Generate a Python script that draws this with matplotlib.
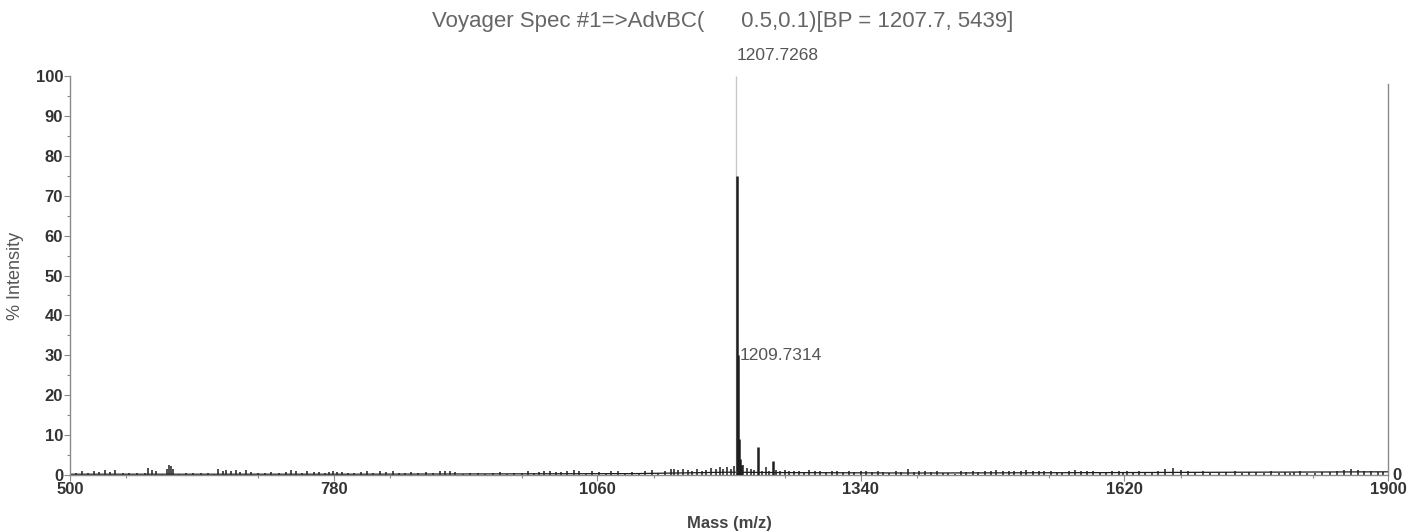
import matplotlib
matplotlib.use("Agg")
import matplotlib.pyplot as plt
from matplotlib.ticker import MultipleLocator
import matplotlib.transforms as mtransforms

plt.rcParams['font.family'] = ['Liberation Sans', 'DejaVu Sans']

# ---------------- data ----------------
title = "Voyager Spec #1=>AdvBC(      0.5,0.1)[BP = 1207.7, 5439]"
x_label = "Mass (m/z)"
y_label = "% Intensity"
x_ticks = [500, 780, 1060, 1340, 1620, 1900]
y_ticks = [0, 10, 20, 30, 40, 50, 60, 70, 80, 90, 100]

# labelled / main peaks
peak_mz = [1207.7268, 1208.73, 1209.7314, 1210.73, 1211.73, 1212.7, 1231.0, 1246.5]
peak_int = [100.0, 75.0, 30.0, 9.0, 4.0, 2.5, 7.0, 3.5]
peak_faint = [True, False, False, False, False, False, False, False]
peak_labels = {1207.7268: "1207.7268", 1209.7314: "1209.7314"}

# small noise peaks along the baseline
noise_mz = [506, 513, 519, 526, 531, 537, 542, 548, 556, 563, 571, 580, 583, 587, 591,
            598, 603, 605, 607, 609, 616, 623, 631, 639, 647, 653, 657, 662, 666, 671,
            676, 681, 687, 692, 700, 707, 714, 722, 729, 735, 740, 746, 752, 759, 765,
            771, 775, 779, 784, 789, 795, 802, 809, 816, 822, 829, 836, 843, 850, 856,
            862, 870, 878, 886, 893, 898, 904, 909, 917, 925, 933, 941, 949, 957, 964,
            972, 980, 986, 993, 998, 1004, 1010, 1016, 1022, 1028, 1035, 1041, 1048,
            1055, 1062, 1069, 1075, 1082, 1090, 1097, 1104, 1111, 1118, 1125, 1132,
            1138, 1142, 1146, 1151, 1156, 1161, 1166, 1171, 1176, 1181, 1186, 1190,
            1194, 1198, 1202, 1205, 1215, 1219, 1223, 1227, 1235, 1239, 1243, 1250,
            1254, 1259, 1264, 1269, 1274, 1280, 1285, 1291, 1297, 1303, 1309, 1315,
            1321, 1327, 1333, 1340, 1346, 1352, 1358, 1364, 1370, 1377, 1383, 1390,
            1396, 1402, 1408, 1415, 1421, 1427, 1433, 1440, 1446, 1452, 1459, 1465,
            1472, 1478, 1484, 1491, 1497, 1503, 1510, 1516, 1523, 1529, 1535, 1542,
            1548, 1554, 1561, 1567, 1574, 1580, 1587, 1594, 1600, 1607, 1614, 1619,
            1623, 1629, 1636, 1642, 1649, 1656, 1663, 1672, 1680, 1688, 1695, 1703,
            1711, 1720, 1728, 1737, 1745, 1752, 1760, 1768, 1776, 1784, 1791, 1796,
            1800, 1806, 1814, 1822, 1830, 1838, 1846, 1853, 1861, 1868, 1875, 1882,
            1889, 1895]
noise_int = [0.6, 0.9, 0.5, 1.1, 0.8, 1.3, 0.7, 1.2, 0.5, 0.4, 0.6, 0.4, 1.7, 1.2, 1.0,
             0.3, 1.5, 2.6, 2.2, 1.6, 0.3, 0.4, 0.5, 0.6, 0.4, 0.3, 1.4, 0.9, 1.3, 1.1,
             1.2, 0.8, 1.3, 0.7, 0.5, 0.6, 0.8, 0.4, 0.7, 1.2, 0.9, 0.6, 1.0, 0.8, 0.7,
             0.5, 0.8, 0.9, 0.7, 0.8, 0.6, 0.4, 0.7, 1.0, 0.5, 0.9, 0.8, 1.0, 0.4, 0.6,
             0.7, 0.5, 0.8, 0.4, 0.9, 1.1, 1.0, 0.8, 0.3, 0.4, 0.5, 0.3, 0.4, 0.8, 0.3,
             0.6, 0.4, 1.0, 0.5, 0.7, 0.9, 1.1, 0.8, 0.7, 1.0, 1.2, 0.9, 0.6, 1.0, 0.8,
             0.5, 0.9, 1.1, 0.6, 0.8, 0.5, 0.9, 1.2, 0.6, 0.9, 1.6, 1.4, 1.3, 1.6, 1.2,
             0.9, 1.4, 1.1, 1.3, 1.8, 1.5, 1.9, 1.4, 2.0, 1.6, 2.2, 2.4, 1.8, 1.5, 1.2,
             1.1, 2.0, 1.0, 1.3, 1.0, 1.2, 0.9, 1.1, 1.0, 0.8, 1.2, 0.9, 1.0, 0.8, 1.1,
             0.9, 0.7, 1.0, 0.8, 0.9, 1.0, 0.7, 0.9, 0.8, 0.6, 1.0, 0.8, 1.4, 0.7, 1.0,
             0.9, 0.8, 1.1, 0.6, 0.5, 0.3, 0.9, 0.8, 1.0, 0.7, 0.9, 1.0, 1.2, 1.0,
             1.1, 1.0, 0.9, 1.2, 1.1, 1.0, 0.9, 1.1, 0.8, 0.6, 0.9, 1.3, 1.0, 0.9, 1.1,
             0.8, 0.7, 0.9, 1.0, 0.8, 1.0, 0.6, 0.9, 0.7, 0.8, 1.0, 1.6, 1.8, 1.2, 1.0,
             0.8, 0.9, 0.5, 0.6, 0.7, 0.9, 0.5, 0.7, 0.8, 0.6, 1.0, 0.6, 0.7, 0.5, 0.8,
             0.9, 0.5, 0.6, 0.7, 0.8, 1.0, 1.2, 1.5, 1.3, 1.1, 0.9, 0.7, 0.8]

baseline_mz = [500, 800, 1100, 1200, 1260, 1400, 1600, 1900]
baseline_int = [0.2, 0.2, 0.35, 0.7, 0.6, 0.5, 0.6, 0.8]

# ---------------- figure ----------------
W, H = 1410, 532
fig = plt.figure(figsize=(W / 100, H / 100), dpi=100)
ax = fig.add_axes([70 / W, 1 - 475 / H, (1388 - 70) / W, (475 - 76) / H])

ink = "#1e1e1e"
axis_col = "#8a8a8a"
text_col = "#555555"

n = min(len(noise_mz), len(noise_int))
ax.plot(baseline_mz, baseline_int, color=ink, lw=0.9)
ax.vlines(noise_mz[:n], 0, noise_int[:n], color=ink, lw=1.1)
for mz, it, faint in zip(peak_mz, peak_int, peak_faint):
    ax.vlines(mz, 0, it, color="#c8c8c8" if faint else ink,
              lw=1.0 if faint else 1.8, zorder=3 if faint else 4)

for mz, lab in peak_labels.items():
    it = peak_int[peak_mz.index(mz)]
    if it >= 99:
        ax.annotate(lab, xy=(mz, it), xytext=(0, 9), textcoords="offset points",
                    fontsize=12.5, color=text_col, ha="left", va="bottom")
    else:
        ax.annotate(lab, xy=(mz, it), xytext=(1, 0), textcoords="offset points",
                    fontsize=12.5, color=text_col, ha="left", va="center")

ax.set_xlim(x_ticks[0], x_ticks[-1])
ax.set_ylim(0, 100)
ax.set_xticks(x_ticks)
ax.set_yticks(y_ticks)
ax.xaxis.set_minor_locator(MultipleLocator(140))
ax.yaxis.set_minor_locator(MultipleLocator(5))

ax.spines["top"].set_visible(False)
for side in ["left", "bottom", "right"]:
    ax.spines[side].set_color(axis_col)
    ax.spines[side].set_linewidth(1.0)
ax.spines["right"].set_bounds(0, 98)

ax.tick_params(axis="both", which="major", length=4, width=0.8, color=axis_col,
               labelsize=12, labelcolor="#333333", pad=1)
ax.tick_params(axis="both", which="minor", length=2.5, width=0.8, color=axis_col)
for lbl in ax.get_xticklabels() + ax.get_yticklabels():
    lbl.set_fontweight("bold")

# right-hand "0" label at baseline
trans = mtransforms.blended_transform_factory(ax.transAxes, ax.transData)
ax.text(1.003, y_ticks[0], "0", transform=trans, ha="left", va="center",
        fontsize=12, fontweight="bold", color="#333333")

ax.set_xlabel(x_label, fontsize=12, fontweight="bold", color="#444444", labelpad=14)
ax.set_ylabel(y_label, fontsize=13, color=text_col, labelpad=8)
fig.text(723 / W, 1 - 22 / H, title, ha="center", va="center", fontsize=16, color="#666666")

fig.savefig("out.png", dpi=100, facecolor="white")
